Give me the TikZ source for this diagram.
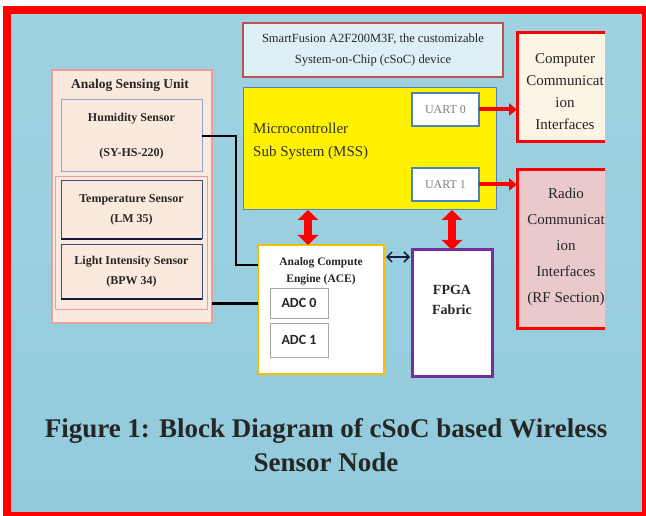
\documentclass[tikz,border=0pt]{standalone}
\usepackage{fontspec}
\setmainfont{Liberation Serif}
\newfontfamily\adcfont{Carlito}
\usetikzlibrary{arrows.meta,calc}

\definecolor{bgtop}{HTML}{A0D2E1}
\definecolor{bgmid}{HTML}{42A3C2}
\definecolor{bgbot}{HTML}{92CBDC}
\definecolor{socfill}{HTML}{DDF0F6}
\definecolor{socline}{HTML}{C0504D}
\definecolor{mssline}{HTML}{4F81BD}
\definecolor{compfill}{HTML}{FCF4E4}
\definecolor{radiofill}{HTML}{E9C9CC}
\definecolor{peach}{HTML}{FCE9DD}
\definecolor{pinkline}{HTML}{E6A09E}
\definecolor{humline}{HTML}{95A3C8}
\definecolor{sensline}{HTML}{3C4A7A}
\definecolor{navy}{HTML}{141A3C}
\definecolor{aceline}{HTML}{F5C000}
\definecolor{fpgaline}{HTML}{7030A0}
\definecolor{darktext}{HTML}{262626}

\tikzset{
  box/.style={draw, rectangle, anchor=north west, inner sep=0pt, outer sep=0pt},
  panel/.style={rectangle, anchor=north west, inner sep=0pt, outer sep=0pt},
  sensor/.style={box, draw=sensline, fill=peach, minimum width=141pt, align=center,
    text=darktext, font=\fontsize{12}{20}\selectfont\bfseries},
  adc/.style={box, draw=gray!70, fill=white, minimum width=58pt,
    text=darktext, font=\adcfont\fontsize{14}{16}\selectfont\bfseries},
  uart/.style={box, draw=mssline, line width=1.5pt, fill=white, minimum width=67pt,
    minimum height=33pt, text=gray, font=\fontsize{12}{14}\selectfont},
  paneltext/.style={align=center, text=darktext, inner sep=0pt},
  wire/.style={draw=black, line width=2pt},
  bus/.style={draw=red, line width=8pt,
    {Triangle[length=10pt,width=20pt]}-{Triangle[length=10pt,width=20pt]}},
  link/.style={draw=red, line width=4pt, -{Triangle[length=8pt,width=12pt]}},
}

\begin{document}
\begin{tikzpicture}[x=1pt, y=-1pt]
  \useasboundingbox (0,0) rectangle (646,516);
  % background and frame
  \shade[top color=bgtop, middle color=bgmid, bottom color=bgbot] (7,10.5) rectangle (646,516);
  \draw[red, line width=8pt] (7,10.5) rectangle (646,516);

  % cSoC caption box
  \node[box, draw=socline, line width=1.5pt, fill=socfill, minimum width=260pt,
    minimum height=54pt] (soc) at (243,23) {};
  \node[paneltext, font=\fontsize{12.5}{21}\selectfont] (soctxt) at (soc.center)
    {SmartFusion A2F200M3F, the customizable\\System-on-Chip (cSoC) device};

  % microcontroller sub system
  \node[box, draw=mssline, line width=1pt, fill=yellow, minimum width=253pt,
    minimum height=122pt] (mss) at (243,88) {};
  \node[anchor=west, align=left, inner sep=0pt, text=black!92!yellow,
    font=\fontsize{15}{23}\selectfont] (msstxt) at (253,141)
    {Microcontroller\\Sub System (MSS)};
  \node[uart] (uart0) at (412,93) {UART 0};
  \node[uart] (uart1) at (412,168) {UART 1};

  % communication interfaces
  \node[panel, fill=compfill, minimum width=88pt, minimum height=109pt] (comp) at (517,33) {};
  \begin{scope}
    \clip (comp.north west) rectangle (comp.south east);
    \node[paneltext, font=\fontsize{15}{22}\selectfont] (comptxt) at (565,92)
      {Computer\\Communicat\\ion\\Interfaces};
  \end{scope}
  \draw[red, line width=3pt] (comp.north east) -- (comp.north west) -- (comp.south west) -- (comp.south east);

  \node[panel, fill=radiofill, minimum width=88pt, minimum height=158pt] (radio) at (517,170) {};
  \begin{scope}
    \clip (radio.north west) rectangle (radio.south east);
    \node[paneltext, font=\fontsize{15}{26}\selectfont] (radiotxt) at (566,247)
      {Radio\\Communicat\\ion\\Interfaces\\(RF Section)};
  \end{scope}
  \draw[red, line width=3pt] (radio.north east) -- (radio.north west) -- (radio.south west) -- (radio.south east);

  % analog sensing unit
  \node[box, draw=pinkline, line width=1.5pt, fill=peach, minimum width=160pt,
    minimum height=253pt] (asu) at (52,70) {};
  \node[text=darktext, inner sep=0pt, font=\fontsize{13.5}{16}\selectfont\bfseries]
    (asutxt) at (130,85) {Analog Sensing Unit};
  \node[sensor, draw=humline, line width=1pt, minimum height=72pt,
    font=\fontsize{12}{35}\selectfont\bfseries] (hum) at (61,100)
    {Humidity Sensor\\(SY-HS-220)};
  \node[box, draw=pinkline, line width=1pt, minimum width=152pt, minimum height=132pt] (pair) at (55,177) {};
  \node[sensor, line width=1pt, minimum height=58pt] (tmp) at (61,181)
    {Temperature Sensor\\(LM 35)};
  \node[sensor, line width=1pt, minimum height=54pt] (lig) at (61,245)
    {Light Intensity Sensor\\(BPW 34)};
  \draw[navy, line width=2.5pt] (tmp.south west) -- (tmp.south east);
  \draw[navy, line width=2.5pt] (lig.south west) -- (lig.south east);

  % analog compute engine
  \node[box, draw=aceline, line width=2pt, fill=white, minimum width=126pt,
    minimum height=129pt] (ace) at (258,245) {};
  \node[paneltext, font=\fontsize{11.5}{17}\selectfont\bfseries] (acetxt) at (321,271)
    {Analog Compute\\Engine (ACE)};
  \node[adc, minimum height=30pt] (adc0) at (270,288) {ADC 0};
  \node[adc, minimum height=34pt] (adc1) at (270,323) {ADC 1};

  % fpga fabric
  \node[box, draw=fpgaline, line width=3pt, fill=white, minimum width=80pt,
    minimum height=126pt] (fpga) at (412,250) {};
  \node[paneltext, font=\fontsize{14}{20}\selectfont\bfseries] (fpgatxt) at (452,300)
    {FPGA\\Fabric};

  % connectors
  \coordinate (bend) at (236,265);
  \draw[wire] (hum.east) -| (bend) -- (bend -| ace.west);
  \draw[wire, line width=3pt] (asu.east |- adc0) -- (ace.west |- adc0);
  \draw[link] (uart0.east) -- (comp.west |- uart0.east);
  \draw[link] (uart1.east) -- (radio.west |- uart1.east);
  \draw[bus] ([xshift=-13pt]ace.north) -- ([xshift=-13pt]ace.north |- mss.south);
  \draw[bus] (fpga.north) -- (fpga.north |- mss.south);
  \coordinate (aceport) at ([yshift=-12pt]ace.north east);
  \draw[draw=navy, line width=1.5pt, {Straight Barb[length=5pt]}-{Straight Barb[length=5pt]},
    shorten <=2pt, shorten >=2pt] (aceport) -- (aceport -| fpga.west);

  % caption
  \node[align=center, text=darktext, inner sep=0pt, font=\fontsize{27}{34}\selectfont\bfseries]
    (title) at (326,445) {Figure 1: Block Diagram of cSoC based Wireless\\Sensor Node};
\end{tikzpicture}
\end{document}
